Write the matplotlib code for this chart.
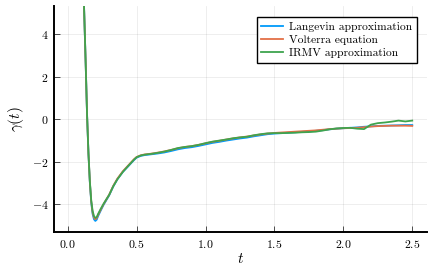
import numpy as np
import matplotlib
matplotlib.use("Agg")
import matplotlib.pyplot as plt
from matplotlib.ticker import FuncFormatter

# Zeitachse und die drei Reihen
t = [0.10, 0.118, 0.13, 0.14, 0.15, 0.16, 0.17, 0.18, 0.19, 0.20, 0.21, 0.22,
     0.24, 0.26, 0.28, 0.30, 0.33, 0.36, 0.40, 0.44, 0.48, 0.50, 0.53, 0.56,
     0.60, 0.65, 0.70, 0.75, 0.80, 0.85, 0.90, 0.95, 1.00, 1.05, 1.10, 1.15,
     1.20, 1.25, 1.30, 1.35, 1.40, 1.45, 1.50, 1.55, 1.60, 1.65, 1.70, 1.75,
     1.80, 1.85, 1.90, 1.95, 2.00, 2.05, 2.10, 2.15, 2.20, 2.25, 2.30, 2.35,
     2.40, 2.45, 2.50]

langevin = [9.5, 5.3, 2.6, 0.2, -1.6, -2.95, -3.9, -4.45, -4.7, -4.78, -4.72, -4.55,
            -4.28, -4.02, -3.8, -3.58, -3.16, -2.82, -2.47, -2.2, -1.92, -1.8, -1.72, -1.68,
            -1.65, -1.61, -1.56, -1.49, -1.41, -1.35, -1.31, -1.25, -1.18, -1.11, -1.06, -1.0,
            -0.95, -0.9, -0.86, -0.8, -0.75, -0.7, -0.67, -0.65, -0.63, -0.61, -0.59, -0.57,
            -0.54, -0.51, -0.47, -0.44, -0.42, -0.40, -0.38, -0.35, -0.33, -0.31, -0.30, -0.29,
            -0.28, -0.27, -0.27]

volterra = [9.5, 5.3, 2.6, 0.2, -1.6, -2.92, -3.85, -4.38, -4.62, -4.70, -4.65, -4.5,
            -4.24, -3.99, -3.77, -3.55, -3.13, -2.79, -2.44, -2.16, -1.88, -1.77, -1.69, -1.65,
            -1.62, -1.57, -1.51, -1.44, -1.36, -1.3, -1.26, -1.2, -1.13, -1.06, -1.01, -0.95,
            -0.9, -0.85, -0.81, -0.76, -0.71, -0.67, -0.64, -0.62, -0.6, -0.58, -0.56, -0.54,
            -0.52, -0.49, -0.46, -0.44, -0.42, -0.41, -0.40, -0.37, -0.34, -0.32, -0.31, -0.30,
            -0.30, -0.30, -0.31]

irmv = [9.5, 5.3, 2.6, 0.2, -1.6, -2.9, -3.8, -4.3, -4.55, -4.64, -4.6, -4.45,
        -4.2, -3.97, -3.76, -3.56, -3.15, -2.82, -2.47, -2.18, -1.9, -1.78, -1.7, -1.66,
        -1.63, -1.58, -1.52, -1.44, -1.35, -1.3, -1.26, -1.2, -1.12, -1.05, -1.0, -0.95,
        -0.89, -0.85, -0.82, -0.75, -0.7, -0.66, -0.65, -0.65, -0.64, -0.63, -0.61, -0.6,
        -0.58, -0.53, -0.47, -0.43, -0.41, -0.40, -0.44, -0.46, -0.25, -0.18, -0.15, -0.11,
        -0.06, -0.1, -0.06]

labels = ["Langevin approximation", "Volterra equation", "IRMV approximation"]
colors = ["#009AFA", "#E36F47", "#3EA44E"]

plt.rcParams['font.family'] = ['cmr10', 'DejaVu Serif']
plt.rcParams['mathtext.fontset'] = 'cm'
plt.rcParams['axes.unicode_minus'] = False

fig = plt.figure(figsize=(4.33, 2.73), dpi=100)
ax = fig.add_axes([54 / 433, 41 / 273, 373 / 433, 226 / 273])

for y, lab, c in zip([langevin, volterra, irmv], labels, colors):
    ax.plot(t, y, color=c, lw=1.3, label=lab)

ax.set_xlim(-0.1, 2.607)
ax.set_ylim(-5.3, 5.33)
ax.set_xticks([0.0, 0.5, 1.0, 1.5, 2.0, 2.5])
ax.set_yticks([-4, -2, 0, 2, 4])
ax.xaxis.set_major_formatter(FuncFormatter(lambda v, p: r'$%.1f$' % v))
ax.yaxis.set_major_formatter(FuncFormatter(lambda v, p: r'$%d$' % v))

# Achsen im Stil von Plots.jl
for s in ['top', 'right']:
    ax.spines[s].set_visible(False)
for s in ['left', 'bottom']:
    ax.spines[s].set_linewidth(1.4)
ax.grid(True, color='black', alpha=0.08, lw=0.6)
ax.tick_params(direction='in', length=4, width=0.6, color='#333333',
               labelsize=8.5, pad=4)

ax.set_xlabel(r'$t$', fontsize=11, labelpad=2)
ax.set_ylabel(r'$\gamma(t)$', fontsize=11, labelpad=4)

leg = ax.legend(loc='upper right', fontsize=8.3, fancybox=False, framealpha=1,
                edgecolor='black', handlelength=1.9, handletextpad=0.5,
                borderpad=0.4, labelspacing=0.25, bbox_to_anchor=(0.988, 0.975))
leg.get_frame().set_linewidth(1.0)

fig.savefig("out.png", dpi=100)
plt.close()
